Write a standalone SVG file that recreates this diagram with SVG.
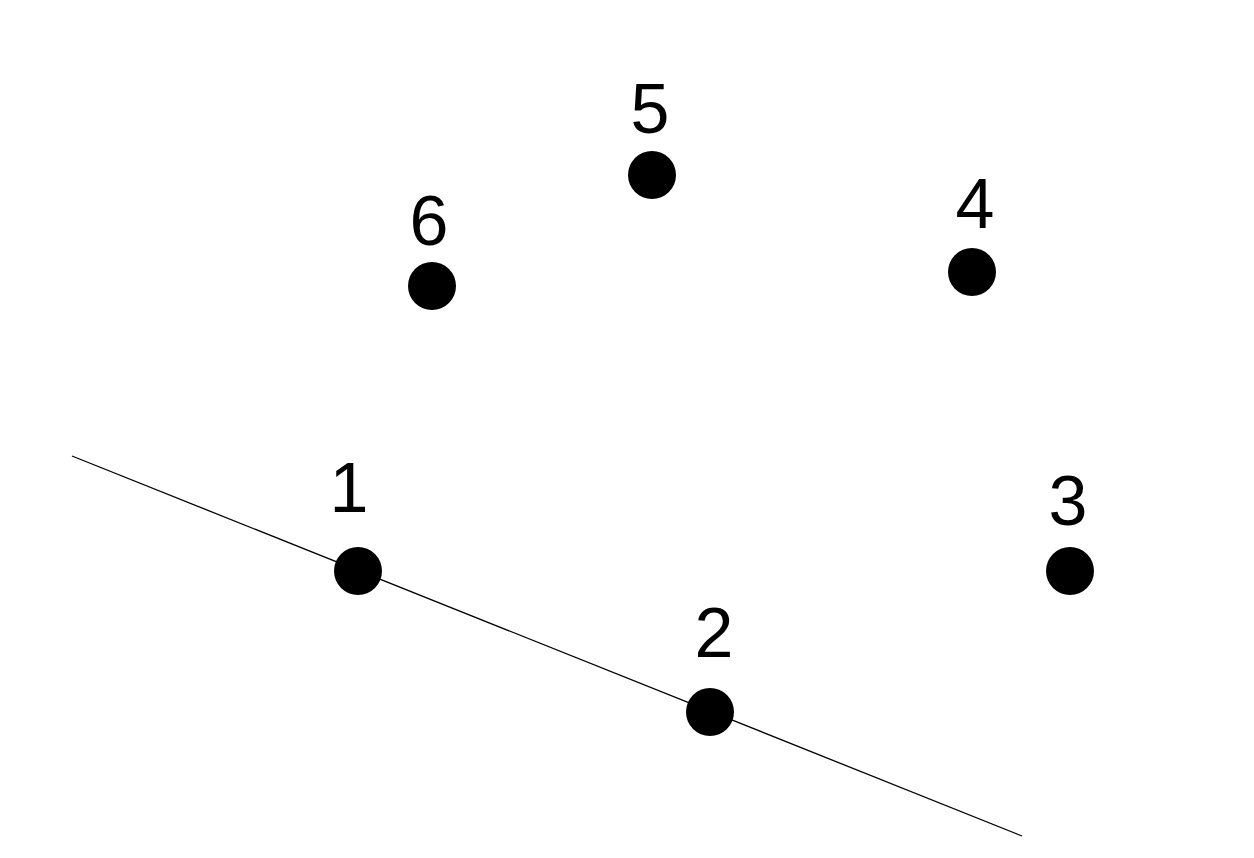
<svg xmlns="http://www.w3.org/2000/svg" width="1254" height="858" viewBox="0 0 1254 858">
<style>
.pt{fill:#000}
.lbl{font-family:"Liberation Sans",Arial,sans-serif;font-size:70px;fill:#000;text-anchor:middle}
.ln{stroke:#000;stroke-width:1.3;fill:none}
</style>
<rect width="1254" height="858" fill="#fff"/>
<g id="connectors">
<line class="ln" x1="72" y1="456" x2="1022" y2="836"/>
</g>
<g id="node1"><circle class="pt" cx="358" cy="571" r="24"/><text class="lbl" x="349" y="512">1</text></g>
<g id="node2"><circle class="pt" cx="710" cy="712" r="24"/><text class="lbl" x="714" y="657">2</text></g>
<g id="node3"><circle class="pt" cx="1070" cy="571" r="24"/><text class="lbl" x="1068" y="525">3</text></g>
<g id="node4"><circle class="pt" cx="972" cy="272" r="24"/><text class="lbl" x="975" y="228">4</text></g>
<g id="node5"><circle class="pt" cx="652" cy="175" r="24"/><text class="lbl" x="650" y="133">5</text></g>
<g id="node6"><circle class="pt" cx="432" cy="286" r="24"/><text class="lbl" x="429" y="245">6</text></g>
</svg>
